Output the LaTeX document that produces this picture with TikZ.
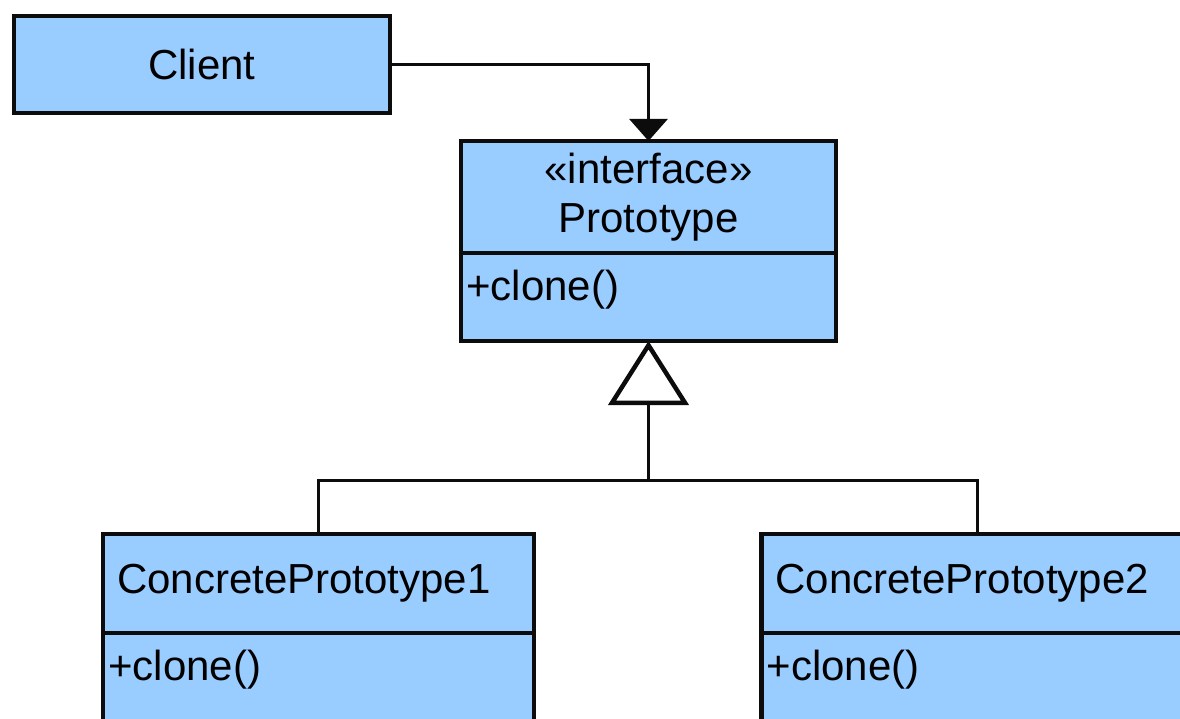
\documentclass[tikz,border=0pt]{standalone}
\usepackage{fontspec}
\setmainfont{Liberation Sans}
\usepackage{tikz}
\usetikzlibrary{arrows.meta, positioning}
\definecolor{classblue}{RGB}{153, 204, 255}
\definecolor{umlline}{RGB}{12, 12, 12}

\begin{document}
\begin{tikzpicture}[x=1pt, y=-1pt,
    compart/.style={draw=umlline, fill=classblue, line width=4.5pt, outer sep=0pt, inner sep=0pt,
          font=\fontsize{42}{49}\selectfont},
    cphead/.style={compart, text width=403pt, inner xsep=14pt, minimum height=99pt, align=left},
    optext/.style={anchor=north west, inner xsep=5pt, inner ysep=17pt, font=\fontsize{42}{49}\selectfont},
    umlconn/.style={draw=umlline, line width=3pt}]
    \useasboundingbox (0,0) rectangle (1180,719);
    \clip (0,0) rectangle (1180,719);

    \node[compart, minimum width=376pt, minimum height=97pt] (client) at (202, 64.5) {Client};

    \node[compart, minimum width=375pt, minimum height=112pt, align=center] (protohead) at (648.5, 197) {«interface»\\Prototype};
    \node[compart, minimum width=375pt, minimum height=88pt, below=0pt of protohead] (protoops) {};
    \node[optext] (protoclone) at (protoops.north west) {+clone()};

    \node[cphead] (cp1head) at (318.5, 583.5) {ConcretePrototype1};
    \node[compart, minimum width=431pt, minimum height=130pt, below=0pt of cp1head] (cp1ops) {};
    \node[optext] (cp1clone) at (cp1ops.north west) {+clone()};

    \node[cphead] (cp2head) at (977, 583.5) {ConcretePrototype2};
    \node[compart, minimum width=431pt, minimum height=130pt, below=0pt of cp2head] (cp2ops) {};
    \node[optext] (cp2clone) at (cp2ops.north west) {+clone()};

    \draw[umlconn, -{Triangle[width=38pt, length=22pt]}] (client.east) -| (protohead.north);

    \coordinate (fork) at (648.5, 480);
    \draw[umlconn] (cp1head.north) |- (fork) -| (cp2head.north);
    \draw[umlconn, -{Triangle[fill=white, width=80pt, length=64pt, line width=4.5pt]}] (fork) -- (protoops.south);
\end{tikzpicture}
\end{document}
